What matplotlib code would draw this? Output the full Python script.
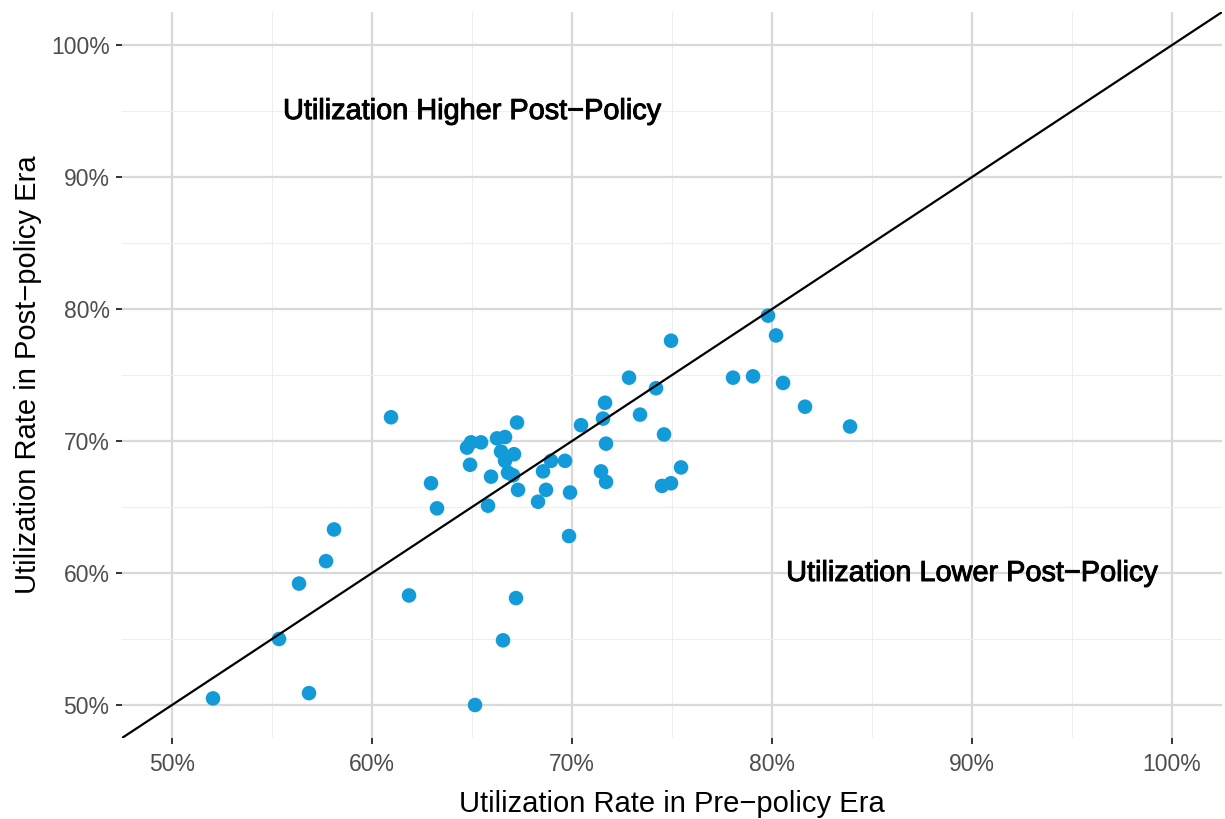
import matplotlib
matplotlib.use("Agg")
import matplotlib.pyplot as plt
import matplotlib.patheffects as pe
import numpy as np

# utilization (%) before and after policy
pre = [52.05, 55.35, 56.85, 56.35, 57.7, 58.1, 60.95, 61.85, 62.95, 63.25,
       64.75, 64.95, 64.9, 65.45, 65.8, 65.95, 66.25, 66.45, 66.65, 66.65,
       66.8, 67.05, 67.1, 67.25, 67.3, 66.55, 65.15, 67.2, 68.3, 68.55,
       68.7, 68.95, 69.65, 69.85, 69.9, 70.45, 71.45, 71.55, 71.65, 71.7,
       71.7, 72.85, 73.4, 74.2, 74.5, 74.6, 74.95, 74.95, 75.45, 78.05,
       79.05, 79.8, 80.2, 80.55, 81.65, 83.9]
post = [50.5, 55.0, 50.9, 59.2, 60.9, 63.3, 71.8, 58.3, 66.8, 64.9,
        69.5, 69.9, 68.2, 69.9, 65.1, 67.3, 70.2, 69.2, 70.3, 68.5,
        67.6, 67.4, 69.0, 71.4, 66.3, 54.9, 50.0, 58.1, 65.4, 67.7,
        66.3, 68.5, 68.5, 62.8, 66.1, 71.2, 67.7, 71.7, 72.9, 69.8,
        66.9, 74.8, 72.0, 74.0, 66.6, 70.5, 66.8, 77.6, 68.0, 74.8,
        74.9, 79.5, 78.0, 74.4, 72.6, 71.1]

major = [50, 60, 70, 80, 90, 100]
minor = [55, 65, 75, 85, 95]
labels = [f"{v}%" for v in major]

plt.rcParams['font.family'] = ['Liberation Sans', 'DejaVu Sans']

fig = plt.figure(figsize=(12.25, 8.19), dpi=100)
ax = fig.add_axes([0.0996, 0.0989, 0.898, 0.8864])

ax.set_xlim(47.5, 102.5)
ax.set_ylim(47.5, 102.5)

ax.set_xticks(major)
ax.set_xticklabels(labels)
ax.set_yticks(major)
ax.set_yticklabels(labels)
ax.set_xticks(minor, minor=True)
ax.set_yticks(minor, minor=True)

ax.grid(True, which='major', color='#d9d9d9', linewidth=1.6)
ax.grid(True, which='minor', color='#eeeeee', linewidth=0.8)
ax.set_axisbelow(True)
for s in ax.spines.values():
    s.set_visible(False)

ax.tick_params(which='major', length=4, width=1.4, color='#333333',
               labelsize=16.5, labelcolor='#4d4d4d')
ax.tick_params(axis='x', which='major', pad=7)
ax.tick_params(axis='y', which='major', pad=5)
ax.tick_params(which='minor', length=0)

ax.scatter(pre, post, s=110, color='#129bd8', edgecolors='none', zorder=3)
ax.axline((50, 50), slope=1, color='black', linewidth=1.6, zorder=4)

stroke = [pe.withStroke(linewidth=0.7, foreground='black')]
ax.text(65, 95, "Utilization Higher Post\u2212Policy", fontsize=20.8,
        ha='center', va='center', color='black', path_effects=stroke)
ax.text(90, 60, "Utilization Lower Post\u2212Policy", fontsize=20.8,
        ha='center', va='center', color='black', path_effects=stroke)

ax.set_xlabel("Utilization Rate in Pre\u2212policy Era", fontsize=21, labelpad=10)
ax.set_ylabel("Utilization Rate in Post\u2212policy Era", fontsize=21, labelpad=6)

fig.savefig("out.png", dpi=100, facecolor='white')
